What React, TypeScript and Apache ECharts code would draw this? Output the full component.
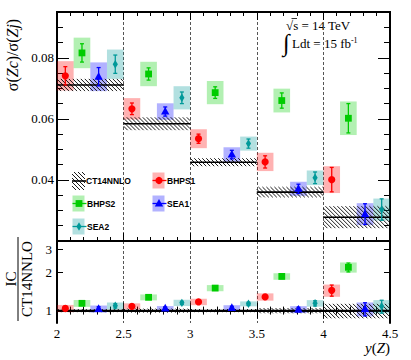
import React, { useEffect, useRef } from 'react';
import * as echarts from 'echarts';

// ---------- data ----------
const binLows = [2.0, 2.5, 3.0, 3.5, 4.0];
const binWidth = 0.5;
const xMin = 2.0;
const xMax = 4.5;
const topYMin = 0.02;
const topYMax = 0.095;
const topYLabels = [0.04, 0.06, 0.08];
const ratioMin = 0.8;
const ratioMax = 3.5;
const ratioLabels = [1, 2, 3];

const ct14 = [0.0711, 0.0584, 0.0458, 0.036, 0.0278];
const ct14Err = [0.002, 0.0021, 0.0013, 0.0017, 0.0036];

const bhps1 = [0.0741, 0.0633, 0.0535, 0.0459, 0.0401];
const bhps1Stat = [0.003, 0.0019, 0.0015, 0.002, 0.004];
const bhps1Box = [0.0048, 0.0035, 0.0031, 0.003, 0.0044];
const bhps1Ratio = [1.04, 1.08, 1.17, 1.28, 1.44];

const bhps2 = [0.0816, 0.0747, 0.0686, 0.066, 0.0602];
const bhps2Stat = [0.003, 0.002, 0.0019, 0.0025, 0.0048];
const bhps2Box = [0.005, 0.004, 0.0038, 0.0039, 0.0055];
const bhps2Ratio = [1.14, 1.27, 1.5, 1.85, 2.18];

const sea1 = [0.0738, 0.0624, 0.0483, 0.0371, 0.0288];
const sea1Stat = [0.003, 0.0015, 0.0014, 0.0015, 0.0034];
const sea1Box = [0.0047, 0.0027, 0.0024, 0.0023, 0.0036];
const sea1Ratio = [1.03, 1.04, 1.05, 1.02, 1.03];

const sea2 = [0.0779, 0.0669, 0.0519, 0.0407, 0.0303];
const sea2Stat = [0.003, 0.0019, 0.0015, 0.0019, 0.0035];
const sea2Box = [0.0048, 0.0038, 0.0023, 0.0024, 0.0036];
const sea2Ratio = [1.09, 1.15, 1.13, 1.14, 1.08];

const models = [
  { name: 'BHPS1', color: '#ff0000', box: 'rgba(255,0,0,0.3)', marker: 'circle', vals: bhps1, stat: bhps1Stat, boxe: bhps1Box, ratio: bhps1Ratio },
  { name: 'BHPS2', color: '#00cc00', box: 'rgba(0,204,0,0.3)', marker: 'square', vals: bhps2, stat: bhps2Stat, boxe: bhps2Box, ratio: bhps2Ratio },
  { name: 'SEA1', color: '#0000ff', box: 'rgba(0,0,255,0.3)', marker: 'triangle', vals: sea1, stat: sea1Stat, boxe: sea1Box, ratio: sea1Ratio },
  { name: 'SEA2', color: '#009999', box: 'rgba(0,153,153,0.3)', marker: 'diamond', vals: sea2, stat: sea2Stat, boxe: sea2Box, ratio: sea2Ratio },
];

// ---------- helpers ----------
const SUB = binWidth / 4;
const lg = (v: number) => Math.log10(v);
const SERIF = '"Liberation Serif", "DejaVu Serif", serif';
const SANS = '"Liberation Sans", Arial, sans-serif';

function markerShape(kind: string, cx: number, cy: number, color: string): any {
  if (kind === 'circle') return { type: 'circle', shape: { cx, cy, r: 3.6 }, style: { fill: color } };
  if (kind === 'square') return { type: 'rect', shape: { x: cx - 3.4, y: cy - 3.4, width: 6.8, height: 6.8 }, style: { fill: color } };
  if (kind === 'triangle') return { type: 'polygon', shape: { points: [[cx, cy - 4.6], [cx + 4.2, cy + 3], [cx - 4.2, cy + 3]] }, style: { fill: color } };
  return { type: 'polygon', shape: { points: [[cx, cy - 4.2], [cx + 2.6, cy], [cx, cy + 4.2], [cx - 2.6, cy]] }, style: { fill: color } };
}

function hatchLines(x0: number, y0: number, x1: number, y1: number, step = 4): any[] {
  const h = y1 - y0;
  const out: any[] = [];
  for (let c = x0 - h; c < x1; c += step) {
    const sx = Math.max(c, x0);
    const ex = Math.min(c + h, x1);
    if (ex <= sx) continue;
    out.push({
      type: 'line',
      shape: { x1: sx, y1: y0 + (sx - c), x2: ex, y2: y0 + (ex - c) },
      style: { stroke: '#000', lineWidth: 0.9 },
    });
  }
  return out;
}

const renderBox = (fill: string) => (params: any, api: any) => {
  const x = api.value(0);
  const a = api.coord([x - SUB / 2, api.value(5)]);
  const b = api.coord([x + SUB / 2, api.value(4)]);
  return { type: 'rect', shape: { x: a[0], y: a[1], width: b[0] - a[0], height: b[1] - a[1] }, style: { fill } };
};

const renderMark = (color: string, kind: string) => (params: any, api: any) => {
  const x = api.value(0);
  const c = api.coord([x, api.value(1)]);
  const lo = api.coord([x, api.value(2)]);
  const hi = api.coord([x, api.value(3)]);
  const ls = { stroke: color, lineWidth: 1.3 };
  return {
    type: 'group',
    children: [
      { type: 'line', shape: { x1: c[0], y1: lo[1], x2: c[0], y2: hi[1] }, style: ls },
      { type: 'line', shape: { x1: c[0] - 2, y1: lo[1], x2: c[0] + 2, y2: lo[1] }, style: ls },
      { type: 'line', shape: { x1: c[0] - 2, y1: hi[1], x2: c[0] + 2, y2: hi[1] }, style: ls },
      markerShape(kind, c[0], c[1], color),
    ],
  };
};

const renderBand = (params: any, api: any) => {
  const lo = api.value(0);
  const hi = api.value(1);
  const a = api.coord([lo, api.value(4)]);
  const b = api.coord([hi, api.value(3)]);
  const m = api.coord([lo, api.value(2)]);
  const children = hatchLines(a[0], a[1], b[0], b[1]);
  children.push({ type: 'line', shape: { x1: a[0], y1: m[1], x2: b[0], y2: m[1] }, style: { stroke: '#000', lineWidth: 1.6 } });
  return { type: 'group', children };
};

export default function App() {
  const ref = useRef<HTMLDivElement>(null);
  useEffect(() => {
    if (!ref.current) return;
    const chart = echarts.init(ref.current, null, { renderer: 'svg' });

    const G0 = { left: 57, top: 12, width: 333, height: 229 };
    const G1 = { left: 57, top: 241, width: 333, height: 82 };
    const axisLine = { show: true, lineStyle: { color: '#000', width: 2 } };

    const xBase = (grid: number, pos: string, labels: boolean, split: boolean) => ({
      type: 'value', gridIndex: grid, position: pos, min: xMin, max: xMax, interval: 0.5,
      axisLine,
      axisTick: { show: true, inside: true, length: 8, lineStyle: { color: '#000', width: 1 } },
      minorTick: { show: true, splitNumber: 5, length: 4, lineStyle: { color: '#000', width: 1 } },
      axisLabel: labels
        ? { show: true, margin: 4, fontFamily: SERIF, fontSize: 13, color: '#000', formatter: (v: number) => String(+v.toFixed(1)) }
        : { show: false },
      splitLine: split ? { show: true, lineStyle: { color: '#555', type: [3, 2], width: 1 } } : { show: false },
    });

    const yTopMinor = (pos: string, labels: boolean) => ({
      type: 'value', gridIndex: 0, position: pos, min: topYMin, max: topYMax, interval: 0.005,
      axisLine,
      axisTick: { show: true, inside: true, length: 6, lineStyle: { color: '#000' } },
      axisLabel: labels
        ? { show: true, customValues: topYLabels, margin: 3, fontFamily: SERIF, fontSize: 13, color: '#000', formatter: (v: number) => v.toFixed(2) }
        : { show: false },
      splitLine: { show: false },
    });
    const yTopMajor = (pos: string) => ({
      type: 'value', gridIndex: 0, position: pos, min: topYMin, max: topYMax,
      axisLine,
      axisTick: { show: true, inside: true, length: 12, customValues: topYLabels, lineStyle: { color: '#000' } },
      axisLabel: { show: false },
      splitLine: { show: false },
    });
    const yRatio = (pos: string, labels: boolean) => ({
      type: 'value', gridIndex: 1, position: pos, min: lg(ratioMin), max: lg(ratioMax),
      axisLine,
      axisTick: { show: true, inside: true, length: 6, customValues: ratioLabels.map(lg), lineStyle: { color: '#000' } },
      axisLabel: labels
        ? { show: true, customValues: ratioLabels.map(lg), margin: 5, fontFamily: SERIF, fontSize: 13, color: '#000', formatter: (v: number) => String(Math.round(Math.pow(10, v))) }
        : { show: false },
      splitLine: { show: false },
    });

    const series: any[] = [];
    // boxes (below hatch)
    models.forEach((m, k) => {
      const top = m.vals.map((v, i) => [binLows[i] + (k + 0.5) * SUB, v, v - m.stat[i], v + m.stat[i], v - m.boxe[i], v + m.boxe[i]]);
      const bot = m.ratio.map((r, i) => {
        const rs = m.stat[i] / m.vals[i];
        const rb = m.boxe[i] / m.vals[i];
        return [binLows[i] + (k + 0.5) * SUB, lg(r), lg(r * (1 - rs)), lg(r * (1 + rs)), lg(r * (1 - rb)), lg(r * (1 + rb))];
      });
      series.push({ type: 'custom', name: m.name + ' box', xAxisIndex: 0, yAxisIndex: 0, z: 1, renderItem: renderBox(m.box), data: top, encode: { x: 0, y: 1 } });
      series.push({ type: 'custom', name: m.name + ' rbox', xAxisIndex: 2, yAxisIndex: 4, z: 1, renderItem: renderBox(m.box), data: bot, encode: { x: 0, y: 1 } });
      (m as any)._top = top;
      (m as any)._bot = bot;
    });
    // CT14 bands
    const bandTop = ct14.map((c, i) => [binLows[i], binLows[i] + binWidth, c, c - ct14Err[i], c + ct14Err[i]]);
    const bandBot = ct14.map((c, i) => {
      const r = ct14Err[i] / c;
      return [binLows[i], binLows[i] + binWidth, 0, lg(1 - r), lg(1 + r)];
    });
    series.push({ type: 'custom', name: 'CT14NNLO', xAxisIndex: 0, yAxisIndex: 0, z: 2, renderItem: renderBand, data: bandTop, encode: { x: [0, 1], y: 2 } });
    series.push({ type: 'custom', name: 'CT14NNLO ratio', xAxisIndex: 2, yAxisIndex: 4, z: 2, renderItem: renderBand, data: bandBot, encode: { x: [0, 1], y: 2 } });
    // markers
    models.forEach((m) => {
      series.push({ type: 'custom', name: m.name, xAxisIndex: 0, yAxisIndex: 0, z: 3, renderItem: renderMark(m.color, m.marker), data: (m as any)._top, encode: { x: 0, y: 1 } });
      series.push({ type: 'custom', name: m.name + ' ratio', xAxisIndex: 2, yAxisIndex: 4, z: 3, renderItem: renderMark(m.color, m.marker), data: (m as any)._bot, encode: { x: 0, y: 1 } });
    });

    // ---------- legend & annotations (graphic) ----------
    const g: any[] = [];
    const legendFont = `bold 8.5px ${SANS}`;
    // CT14NNLO entry
    g.push({ type: 'group', children: hatchLines(72, 172, 85, 190) });
    g.push({ type: 'line', shape: { x1: 72, y1: 181, x2: 86, y2: 181 }, style: { stroke: '#000', lineWidth: 1.6 } });
    g.push({ type: 'text', x: 86, y: 181, style: { text: 'CT14NNLO', font: legendFont, fill: '#000', verticalAlign: 'middle' } });
    const entries = [
      { m: models[0], x: 152.5, y: 180.5 },
      { m: models[1], x: 72.5, y: 203.5 },
      { m: models[2], x: 152.5, y: 203.5 },
      { m: models[3], x: 72.5, y: 226.5 },
    ];
    entries.forEach(({ m, x, y }) => {
      g.push({ type: 'rect', shape: { x, y: y - 8, width: 12, height: 16 }, style: { fill: m.box } });
      g.push({ type: 'line', shape: { x1: x, y1: y, x2: x + 14, y2: y }, style: { stroke: m.color, lineWidth: 1.3 } });
      g.push(markerShape(m.marker, x + 6.5, y, m.color));
      g.push({ type: 'text', x: x + 14.5, y, style: { text: m.name, font: legendFont, fill: '#000', verticalAlign: 'middle' } });
    });
    // energy / lumi
    g.push({ type: 'text', x: 286, y: 25, style: { text: '√s = 14 TeV', font: `13px ${SERIF}`, fill: '#000', verticalAlign: 'middle' } });
    g.push({ type: 'line', shape: { x1: 291.5, y1: 18.5, x2: 297, y2: 18.5 }, style: { stroke: '#000', lineWidth: 0.8 } });
    g.push({ type: 'text', x: 283, y: 43, style: { text: '∫', font: `24px ${SERIF}`, fill: '#000', verticalAlign: 'middle' } });
    g.push({
      type: 'text', x: 292, y: 43,
      style: {
        text: '{n|Ldt = 15 fb}{s|-1}', verticalAlign: 'middle', fill: '#000',
        rich: { n: { fontFamily: SERIF, fontSize: 13, fill: '#000' }, s: { fontFamily: SERIF, fontSize: 8, fill: '#000', verticalAlign: 'top', padding: [0, 0, 6, 0] } },
      },
    });
    // axis titles
    g.push({
      type: 'text', x: 12, y: 55, rotation: Math.PI / 2,
      style: {
        text: '{n|σ(}{i|Zc}{n|)/σ(}{i|Zj}{n|)}', align: 'center', verticalAlign: 'middle', fill: '#000',
        rich: { n: { fontFamily: SERIF, fontSize: 16, fill: '#000' }, i: { fontFamily: SERIF, fontSize: 16, fontStyle: 'italic', fill: '#000' } },
      },
    });
    g.push({ type: 'text', x: 11, y: 279, rotation: Math.PI / 2, style: { text: 'IC', font: `15px ${SERIF}`, fill: '#000', align: 'center', verticalAlign: 'middle' } });
    g.push({ type: 'line', shape: { x1: 18, y1: 237, x2: 18, y2: 321 }, style: { stroke: '#000', lineWidth: 1 } });
    g.push({ type: 'text', x: 26.5, y: 279, rotation: Math.PI / 2, style: { text: 'CT14NNLO', font: `15px ${SERIF}`, fill: '#000', align: 'center', verticalAlign: 'middle' } });
    g.push({
      type: 'text', x: 390, y: 348,
      style: {
        text: '{i|y}{n|(}{i|Z}{n|)}', align: 'right', verticalAlign: 'middle', fill: '#000',
        rich: { n: { fontFamily: SERIF, fontSize: 15, fill: '#000' }, i: { fontFamily: SERIF, fontSize: 15, fontStyle: 'italic', fill: '#000' } },
      },
    });

    chart.setOption({
      animation: false,
      backgroundColor: '#fff',
      grid: [
        { ...G0, containLabel: false },
        { ...G1, containLabel: false },
      ],
      xAxis: [
        xBase(0, 'bottom', false, true),
        xBase(0, 'top', false, false),
        xBase(1, 'bottom', true, true),
        xBase(1, 'top', false, false),
      ],
      yAxis: [
        yTopMinor('left', true),
        yTopMajor('left'),
        yTopMinor('right', false),
        yTopMajor('right'),
        yRatio('left', true),
        yRatio('right', false),
      ],
      series,
      graphic: g,
    });
    return () => chart.dispose();
  }, []);
  return <div ref={ref} style={{ width: 411, height: 360, position: 'absolute', left: 0, top: 0 }} />;
}
